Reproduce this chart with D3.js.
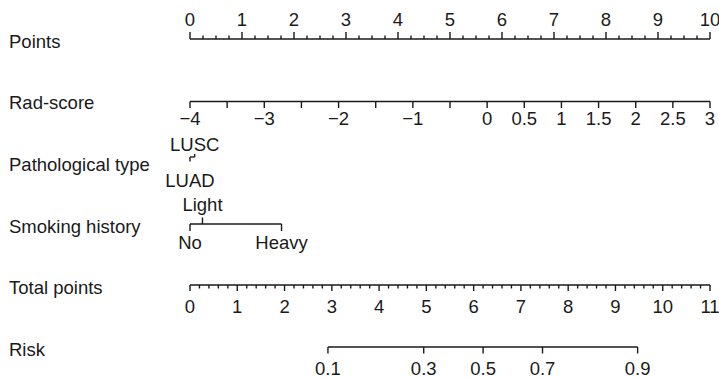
<!DOCTYPE html>
<html>
<head>
<meta charset="utf-8">
<script src="https://cdn.jsdelivr.net/npm/d3@7"></script>
<style>
  html, body { margin: 0; padding: 0; background: #fff; }
  svg text { font-family: "Liberation Sans", Arial, Helvetica, sans-serif; fill: #1a1a1a; }
</style>
</head>
<body>
<svg id="chart" width="719" height="377"></svg>
<script>
// ---- data ----
const rowLabels = ["Points", "Rad-score", "Pathological type", "Smoking history", "Total points", "Risk"];

const pointsTicks = [0, 1, 2, 3, 4, 5, 6, 7, 8, 9, 10];
const pointsMinorStep = 0.25;

const radScoreTicks = [-4, -3.5, -3, -2.5, -2, -1.5, -1, -0.5, 0, 0.5, 1, 1.5, 2, 2.5, 3];
const radScoreLabels = ["−4", "", "−3", "", "−2", "", "−1", "", "0", "0.5", "1", "1.5", "2", "2.5", "3"];
const radScoreRange = [-4, 3];      // maps to 0..10 points

const pathTypes = ["LUAD", "LUSC"];
const pathPoints = [0, 0.09];

const smokingLevels = ["No", "Light", "Heavy"];
const smokingPoints = [0, 0.24, 1.76];

const totalTicks = [0, 1, 2, 3, 4, 5, 6, 7, 8, 9, 10, 11];
const totalMinorStep = 0.2;

const riskTicks = [0.1, 0.3, 0.5, 0.7, 0.9];
const riskTotalPoints = [2.918, 4.944, 6.2, 7.457, 9.469];

// ---- layout ----
const svg = d3.select("#chart");
const fs = 18.5;
const x0 = 190, x1 = 710;
const xPts = d3.scaleLinear().domain([0, 10]).range([x0, x1]);
const xTot = d3.scaleLinear().domain([0, 11]).range([x0, x1]);
const radToPts = d3.scaleLinear().domain(radScoreRange).range([0, 10]);

const rowY = { points: 39, rad: 101.5, path: 157, smoke: 224, total: 285, risk: 347 };
const labelY = [47.5, 109, 170.5, 232.5, 294, 356];

const stroke = "#1a1a1a";
const sw = 1.4;

// row labels
svg.selectAll("text.rowlab").data(rowLabels).join("text")
  .attr("class", "rowlab")
  .attr("x", 9)
  .attr("y", (d, i) => labelY[i])
  .attr("font-size", fs)
  .text(d => d);

function line(g, xa, xb, y) {
  g.append("line").attr("x1", xa).attr("x2", xb).attr("y1", y).attr("y2", y)
    .attr("stroke", stroke).attr("stroke-width", sw);
}
function tick(g, x, y, len) {
  g.append("line").attr("x1", x).attr("x2", x).attr("y1", y).attr("y2", y + len)
    .attr("stroke", stroke).attr("stroke-width", sw);
}
function label(g, x, y, t) {
  g.append("text").attr("x", x).attr("y", y).attr("text-anchor", "middle")
    .attr("font-size", fs).text(t);
}

// Points axis (ticks up, labels above)
{
  const g = svg.append("g");
  const y = rowY.points;
  line(g, xPts(0), xPts(10), y);
  d3.range(0, 10 + 1e-9, pointsMinorStep).forEach(v => {
    const major = Math.abs(v - Math.round(v)) < 1e-9;
    tick(g, xPts(v), y, major ? -7 : -3.5);
  });
  pointsTicks.forEach(v => label(g, xPts(v), 25.5, v));
}

// Rad-score axis (ticks down, labels below)
{
  const g = svg.append("g");
  const y = rowY.rad;
  line(g, xPts(radToPts(radScoreRange[0])), xPts(radToPts(radScoreRange[1])), y);
  radScoreTicks.forEach((v, i) => {
    tick(g, xPts(radToPts(v)), y, 6.5);
    if (radScoreLabels[i]) label(g, xPts(radToPts(v)), 125, radScoreLabels[i]);
  });
}

// Pathological type
{
  const g = svg.append("g");
  const y = rowY.path;
  line(g, xPts(d3.min(pathPoints)), xPts(d3.max(pathPoints)), y);
  // LUAD below, LUSC above
  tick(g, xPts(pathPoints[0]), y, 4.5);
  tick(g, xPts(pathPoints[1]), y, -3);
  label(g, xPts(pathPoints[1]), 150.5, pathTypes[1]);
  label(g, xPts(pathPoints[0]), 187, pathTypes[0]);
}

// Smoking history
{
  const g = svg.append("g");
  const y = rowY.smoke;
  line(g, xPts(d3.min(smokingPoints)), xPts(d3.max(smokingPoints)), y);
  smokingLevels.forEach((lv, i) => {
    const up = lv === "Light";
    tick(g, xPts(smokingPoints[i]), y, up ? -6.5 : 7);
    label(g, xPts(smokingPoints[i]), up ? 211 : 248.5, lv);
  });
}

// Total points (ticks down, labels below)
{
  const g = svg.append("g");
  const y = rowY.total;
  line(g, xTot(0), xTot(11), y);
  d3.range(0, 11 + 1e-9, totalMinorStep).forEach(v => {
    const major = Math.abs(v - Math.round(v)) < 1e-9;
    tick(g, xTot(v), y, major ? 6 : 3.5);
  });
  totalTicks.forEach(v => label(g, xTot(v), 312.5, v));
}

// Risk
{
  const g = svg.append("g");
  const y = rowY.risk;
  line(g, xTot(d3.min(riskTotalPoints)), xTot(d3.max(riskTotalPoints)), y);
  riskTicks.forEach((p, i) => {
    tick(g, xTot(riskTotalPoints[i]), y, 6.5);
    label(g, xTot(riskTotalPoints[i]), 374.5, p);
  });
}
</script>
</body>
</html>
